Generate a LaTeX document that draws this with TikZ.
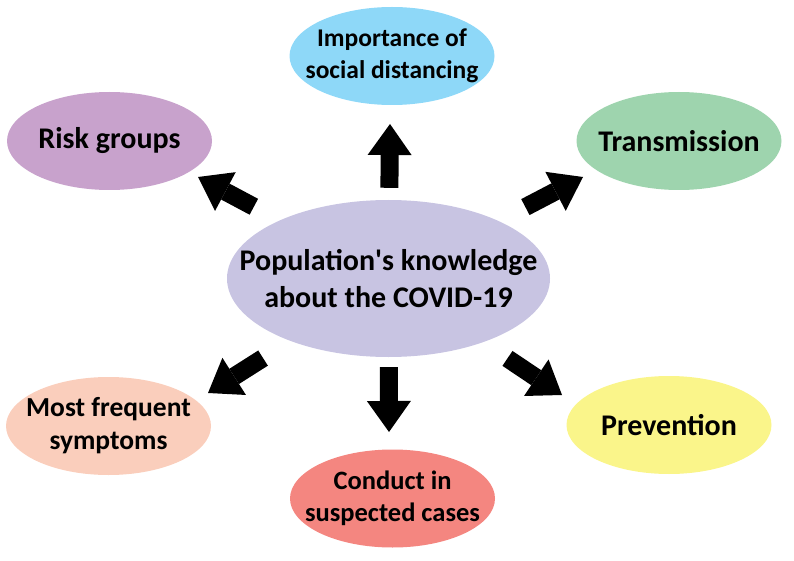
\documentclass[tikz,border=0pt]{standalone}
\usepackage{fontspec}
\setmainfont{Carlito}
\usepackage{tikz}
\usetikzlibrary{
	arrows.meta,
	shapes.geometric,
}
\definecolor{popcol}{RGB}{200,196,226}
\definecolor{impcol}{RGB}{142,216,248}
\definecolor{riskcol}{RGB}{200,162,204}
\definecolor{transcol}{RGB}{158,212,174}
\definecolor{mostcol}{RGB}{250,206,188}
\definecolor{condcol}{RGB}{244,134,128}
\definecolor{prevcol}{RGB}{250,245,138}

\begin{document}
\begin{tikzpicture}[x=1pt,y=-1pt,
	topic/.style={ellipse, inner sep=-60pt, minimum width=205pt, minimum height=98pt,
		align=center},
	blockarrow/.style={line width=18pt, -{Triangle[length=31pt,width=44pt,line width=0pt]}},
	]
	\useasboundingbox (0,0) rectangle (794,561);

	\node[topic, fill=popcol, minimum width=323pt, minimum height=157pt,
		font=\fontsize{30}{37}\bfseries] (pop) at (388.5,278.5)
		{Population\textquotesingle s knowledge\\about the COVID-19};

	\node[topic, fill=impcol, font=\fontsize{25.5}{32}\bfseries] (imp) at (392,56)
		{Importance of\\social distancing};
	\node[topic, fill=riskcol, font=\fontsize{30}{36}\bfseries] (risk) at (109.5,141) {Risk groups};
	\node[topic, fill=transcol, font=\fontsize{30}{36}\bfseries] (trans) at (679,141) {Transmission};
	\node[topic, fill=mostcol, font=\fontsize{27.5}{33}\bfseries] (most) at (108.5,426)
		{Most frequent\\symptoms};
	\node[topic, fill=condcol, font=\fontsize{26.5}{32}\bfseries] (cond) at (392.5,498.5)
		{Conduct in\\suspected cases};
	\node[topic, fill=prevcol, font=\fontsize{30}{36}\bfseries] (prev) at (669,425) {Prevention};

	% tips of the arrows
	\coordinate (imptip) at (390,124);
	\coordinate (risktip) at (198,177);
	\coordinate (transtip) at (583,177);
	\coordinate (mosttip) at (208,393);
	\coordinate (condtip) at (389,432);
	\coordinate (prevtip) at (562,395);

	% arrows out of the centre
	\draw[blockarrow, shorten <=12pt] (pop) -- (imptip);
	\draw[blockarrow, shorten <=29pt] (pop) -- (risktip);
	\draw[blockarrow, shorten <=30pt] (pop) -- (transtip);
	\draw[blockarrow, shorten <=32pt] (pop) -- (mosttip);
	\draw[blockarrow, shorten <=10pt] (pop) -- (condtip);
	\draw[blockarrow, shorten <=29pt] (pop) -- (prevtip);
\end{tikzpicture}
\end{document}
